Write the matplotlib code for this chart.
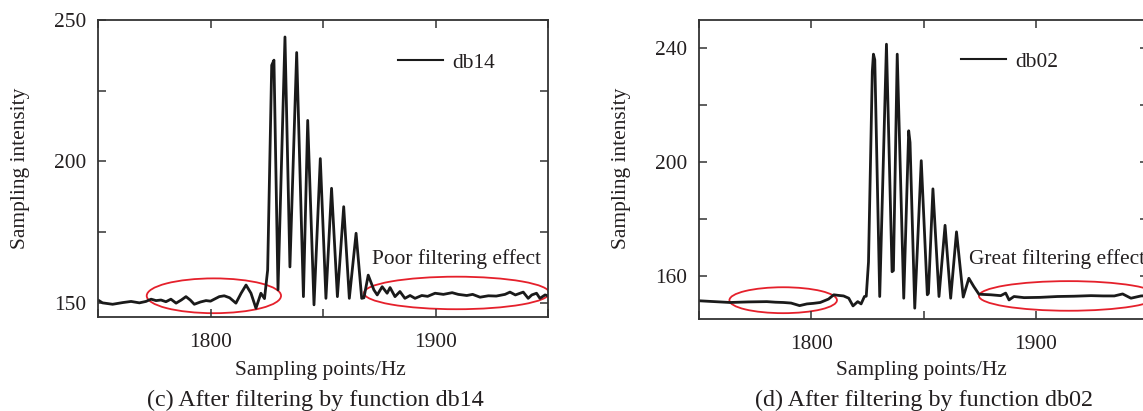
import matplotlib
matplotlib.use("Agg")
import matplotlib.pyplot as plt
from matplotlib.patches import Ellipse
from matplotlib.ticker import MultipleLocator

plt.rcParams['font.family'] = ['Liberation Serif', 'DejaVu Serif']

# ---- data (c) db14 ----
x_db14 = [1750, 1752, 1756.5, 1761, 1764.7, 1768.4, 1771.3, 1773.6, 1775.8, 1778,
          1780.2, 1782.4, 1784.7, 1787, 1789.1, 1791, 1792.8, 1795.5, 1798, 1800,
          1801.7, 1803.9, 1806.1, 1808.5, 1811.3, 1813.6, 1815.8, 1818, 1820.2, 1822.4,
          1824.0, 1825.4, 1827.2, 1828.2, 1830.0, 1833.1, 1835.3, 1838.3, 1841.3, 1843.2,
          1846.0, 1848.8, 1851.3, 1853.8, 1856.4, 1859.2, 1861.7, 1864.7, 1867.2, 1868.2,
          1870.1, 1872.6, 1874.1, 1876.3, 1878.5, 1879.8, 1882.0, 1884.2, 1886.4, 1888.7,
          1890.9, 1893.9, 1896.5, 1899.8, 1903.5, 1907.4, 1910.1, 1913.9, 1916.5, 1919.8,
          1923.5, 1927, 1930.9, 1933.1, 1935.5, 1939.0, 1941.2, 1942.8, 1944.9, 1946.4,
          1948.7, 1950]
y_db14 = [151.0, 150.0, 149.5, 150.1, 150.5, 150.0, 150.5, 151.3, 150.8, 151.0,
          150.4, 151.3, 149.9, 151.0, 152.2, 151.0, 149.5, 150.3, 150.8, 150.6,
          151.3, 152.2, 152.5, 151.8, 149.9, 153.4, 156.3, 153.4, 148.1, 153.4,
          151.5, 161.6, 234.0, 235.8, 154.6, 244.0, 162.7, 238.5, 152.2, 214.5,
          149.3, 201.0, 151.6, 190.5, 152.2, 184.0, 151.6, 174.6, 151.6, 151.8,
          159.8, 154.6, 152.8, 155.7, 153.4, 155.4, 152.2, 154.0, 151.6, 152.6,
          151.6, 152.6, 152.3, 153.4, 153.0, 153.6, 153.0, 152.6, 153.0, 152.0,
          152.5, 152.4, 153.0, 153.8, 152.8, 153.8, 151.6, 152.8, 153.4, 151.6,
          152.8, 152.5]

# ---- data (d) db02 ----
x_db02 = [1750, 1763.8, 1772, 1780.2, 1784, 1787.6, 1791, 1794.8, 1798.1, 1801,
          1804, 1807.7, 1810, 1812, 1814.4, 1816.7, 1818.6, 1820.7, 1822.2, 1823.7,
          1824.5, 1825.5, 1827.2, 1827.7, 1828.3, 1830.5, 1833.5, 1836.0, 1836.6, 1838.3,
          1841.2, 1843.4, 1844.0, 1846.1, 1849.0, 1851.7, 1852.2, 1854.2, 1856.9, 1859.6,
          1862.1, 1864.7, 1867.7, 1870.2, 1872.4, 1874.7, 1880, 1884.4, 1886.6, 1888.1,
          1890.3, 1894.8, 1902, 1909.7, 1917, 1924.6, 1930, 1935, 1938.7, 1942.4,
          1946.9, 1950]
y_db02 = [151.4, 150.8, 151.0, 151.1, 150.9, 150.8, 150.6, 149.7, 150.3, 150.5,
          150.8, 152.0, 153.5, 153.3, 153.1, 152.3, 149.6, 151.1, 150.3, 152.9,
          153.0, 165.0, 232.0, 238.0, 236.0, 152.9, 241.5, 161.6, 162.0, 238.0,
          152.3, 211.1, 207.0, 148.8, 200.6, 153.5, 154.0, 190.7, 152.9, 177.9,
          152.3, 175.6, 152.7, 159.3, 156.4, 153.7, 153.5, 153.2, 154.1, 151.7,
          152.9, 152.5, 152.6, 152.9, 153.0, 153.2, 153.1, 153.1, 153.8, 152.3,
          153.1, 153.2]

x_ticks = [1800, 1900]
x_tick_labels = ["1800", "1900"]
y_ticks_c = [150, 200, 250]
y_ticks_d = [160, 200, 240]

W, H = 1143, 411
fig = plt.figure(figsize=(W / 100, H / 100), dpi=100)

TXT = '#231f20'
FS = 15.4
FS_CAP = 17.4


def box(l, t, r, b):
    return [l / W, 1 - b / H, (r - l) / W, (b - t) / H]


def style(ax, yticks, ymin_step):
    ax.set_xlim(1750, 1950)
    ax.set_ylim(145, 250)
    ax.set_xticks(x_ticks)
    ax.set_xticklabels(x_tick_labels)
    ax.set_yticks(yticks)
    ax.xaxis.set_minor_locator(MultipleLocator(50))
    ax.yaxis.set_minor_locator(MultipleLocator(ymin_step))
    ax.tick_params(which='both', direction='in', length=6, width=1.1, colors='#333333',
                   top=True, right=True, labelsize=FS, labelcolor=TXT)
    ax.tick_params(axis='y', pad=8.5)
    ax.tick_params(axis='x', pad=11.5)
    for s in ax.spines.values():
        s.set_linewidth(1.3)
        s.set_color('#333333')


# (c)
ax1 = fig.add_axes(box(98, 20, 548, 317))
ax1.plot(x_db14, y_db14, color='#1a1a1a', lw=2.0, label='db14')
style(ax1, y_ticks_c, 25)
ax1.add_patch(Ellipse((1801.5, 152.5), 59.7, 12.3, fill=False, ec='#e5202b', lw=1.3))
ax1.add_patch(Ellipse((1909.4, 153.5), 82.4, 11.5, fill=False, ec='#e5202b', lw=1.3))
ax1.text(1871.6, 163.9, 'Poor filtering effect', fontsize=FS, color=TXT, ha='left', va='baseline')
leg1 = ax1.legend(loc='center left', bbox_to_anchor=((398 - 98) / 450, 1 - (63 - 20) / 297),
                  frameon=False, fontsize=FS, handlelength=2.1, handletextpad=0.45,
                  borderpad=0, borderaxespad=0, labelcolor=TXT)
for h in leg1.get_lines():
    h.set_linewidth(1.5)

# (d)
ax2 = fig.add_axes(box(699, 20, 1148, 319))
ax2.plot(x_db02, y_db02, color='#1a1a1a', lw=2.0, label='db02')
style(ax2, y_ticks_d, 20)
ax2.add_patch(Ellipse((1787.5, 151.6), 47.9, 9.1, fill=False, ec='#e5202b', lw=1.3))
ax2.add_patch(Ellipse((1914.7, 153.1), 80.0, 10.4, fill=False, ec='#e5202b', lw=1.3, clip_on=False))
ax2.text(1870.2, 164.2, 'Great filtering effect', fontsize=FS, color=TXT, ha='left', va='baseline',
         clip_on=False)
leg2 = ax2.legend(loc='center left', bbox_to_anchor=((961 - 699) / 449, 1 - (61.7 - 20) / 299),
                  frameon=False, fontsize=FS, handlelength=2.1, handletextpad=0.45,
                  borderpad=0, borderaxespad=0, labelcolor=TXT)
for h in leg2.get_lines():
    h.set_linewidth(1.5)


def ftext(x, y, s, fs=FS, **kw):
    fig.text(x / W, 1 - y / H, s, fontsize=fs, color=TXT, ha='center', va='center', **kw)


ftext(21, 168, 'Sampling intensity', rotation=90)
ftext(622, 168, 'Sampling intensity', rotation=90)
ftext(320, 370, 'Sampling points/Hz')
ftext(921, 370, 'Sampling points/Hz')
ftext(315, 400, '(c) After filtering by function db14', fs=FS_CAP)
ftext(924, 400, '(d) After filtering by function db02', fs=FS_CAP)

fig.savefig('out.png', dpi=100)
